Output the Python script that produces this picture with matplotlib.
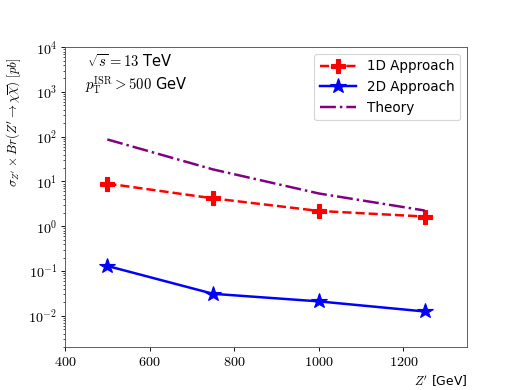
import math
import matplotlib
matplotlib.use("Agg")
import matplotlib.pyplot as plt
from matplotlib.ticker import FuncFormatter, FixedLocator

plt.rcParams['mathtext.fontset'] = 'cm'
plt.rcParams['font.family'] = ['DejaVu Sans']

masses = [500, 750, 1000, 1250]
xsec_1d = [9.0, 4.2, 2.2, 1.65]
xsec_2d = [0.13, 0.031, 0.021, 0.0125]
xsec_theory = [87, 18.6, 5.4, 2.25]
y_major = [1e-2, 1e-1, 1e0, 1e1, 1e2, 1e3, 1e4]
y_minor = [m * 10.0 ** e for e in range(-3, 4) for m in range(2, 10) if 2e-3 <= m * 10.0 ** e <= 1e4]
x_major = [400, 600, 800, 1000, 1200]

fig, ax = plt.subplots(figsize=(6.4, 4.8), dpi=81.25)
fig.subplots_adjust(left=0.125, right=0.898, bottom=0.11, top=0.879)
ax.plot(masses, xsec_1d, color='red', ls='--', lw=2.2, marker='P', ms=13, label='1D Approach')
ax.plot(masses, xsec_2d, color='blue', ls='-', lw=2.2, marker='*', ms=14, label='2D Approach')
ax.plot(masses, xsec_theory, color='purple', ls='-.', lw=2.2, label='Theory')

ax.set_yscale('log')
ax.set_xlim(400, 1350)
ax.set_ylim(2e-3, 1e4)
ax.xaxis.set_major_locator(FixedLocator(x_major))
ax.xaxis.set_major_formatter(FuncFormatter(lambda v, p: r'$%d$' % v))
ax.yaxis.set_major_locator(FixedLocator(y_major))
ax.yaxis.set_minor_locator(FixedLocator(y_minor))
ax.yaxis.set_major_formatter(FuncFormatter(lambda v, p: r'$10^{%d}$' % round(math.log10(v))))
ax.yaxis.set_minor_formatter(FuncFormatter(lambda v, p: ''))
ax.tick_params(labelsize=12.5)

ax.set_xlabel(r"$Z'$ [GeV]", fontsize=11)
ax.xaxis.set_label_coords(1.0, -0.09)
ax.xaxis.label.set_ha('right')
ax.set_ylabel(r"$\sigma_{Z'}\times Br(Z'\to\chi\overline{\chi})\ [pb]$", fontsize=11.5)
ax.yaxis.set_label_coords(-0.105, 0.75)

ax.text(0.055, 0.98, r"$\sqrt{s}=13$ TeV", transform=ax.transAxes, fontsize=13, va='top')
ax.text(0.05, 0.91, r"$p_{\mathrm{T}}^{\mathrm{ISR}}>500$ GeV", transform=ax.transAxes, fontsize=13, va='top')

ax.legend(loc='upper right', fontsize=12, handlelength=2.7, borderaxespad=0.5)
for s in ax.spines.values():
    s.set_color('#555555')

fig.savefig('out.png', dpi=81.25)
